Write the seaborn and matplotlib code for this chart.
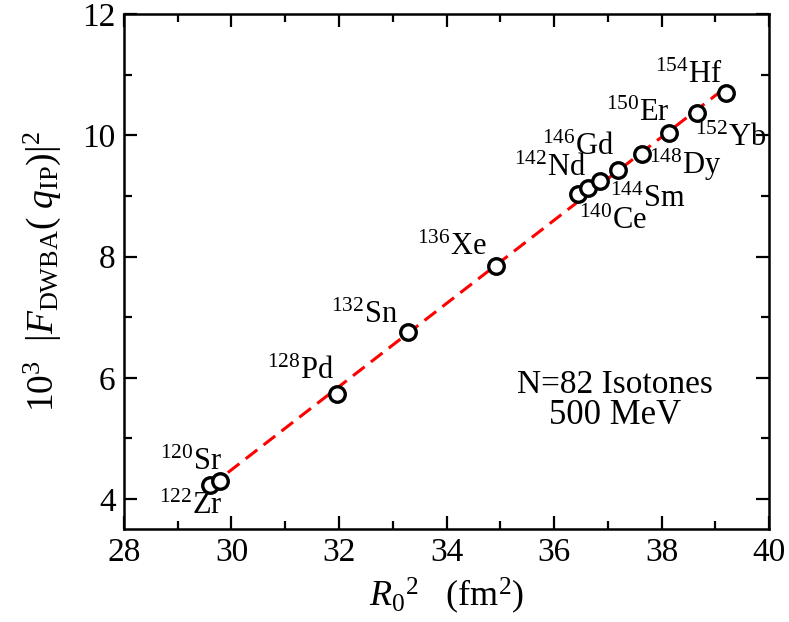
import matplotlib
matplotlib.use("Agg")
import pandas as pd
import seaborn as sns
import matplotlib.pyplot as plt
from matplotlib.ticker import MultipleLocator

# N=82 isotones, values
mass = [120, 122, 128, 132, 136, 140, 142, 144, 146, 148, 150, 152, 154]
element = ["Sr", "Zr", "Pd", "Sn", "Xe", "Ce", "Nd", "Sm", "Gd", "Dy", "Er", "Yb", "Hf"]
r0_sq = [29.60, 29.79, 31.97, 33.28, 34.91, 36.44, 36.63, 36.86, 37.18, 37.64, 38.14, 38.65, 39.19]
f_dwba = [4.23, 4.30, 5.74, 6.76, 7.85, 9.03, 9.13, 9.25, 9.42, 9.69, 10.03, 10.37, 10.69]

df = pd.DataFrame({"mass": mass, "element": element, "r0_sq": r0_sq, "f": f_dwba})

# label offsets (pixels) from each point
label_offsets = [(-19, 23), (-29, -26), (-37, 22), (-43, 16), (-44, 18), (35, -27), (-38, 20),
                 (47, -19), (-40, 23), (43, -11), (-32, 20), (34, -26), (-37, 18)]

sns.set_style("ticks", {"xtick.direction": "in", "ytick.direction": "in"})
plt.rcParams["font.family"] = ["Liberation Serif", "DejaVu Serif"]
plt.rcParams["mathtext.fontset"] = "custom"
plt.rcParams["mathtext.rm"] = "Liberation Serif"
plt.rcParams["mathtext.it"] = "Liberation Serif:italic"
plt.rcParams["mathtext.bf"] = "Liberation Serif:bold"
for key in ["text.color", "axes.labelcolor", "xtick.color", "ytick.color", "axes.edgecolor"]:
    plt.rcParams[key] = "black"

fig = plt.figure(figsize=(7.89, 6.22), dpi=100)
ax = fig.add_axes([0.157, 0.149, 0.818, 0.8285])

# linear fit line
sns.regplot(data=df, x="r0_sq", y="f", scatter=False, ci=None, ax=ax,
            line_kws=dict(color="red", lw=2.2, dashes=(4.8, 2.6), zorder=2))

sns.scatterplot(data=df, x="r0_sq", y="f", ax=ax, s=125, facecolor="white",
                edgecolor="black", linewidth=2.4, zorder=3)

for (i, row), (dx, dy) in zip(df.iterrows(), label_offsets):
    ax.annotate(r"$^{%d}$%s" % (row["mass"], row["element"]), (row["r0_sq"], row["f"]),
                xytext=(dx, dy), textcoords="offset pixels", ha="center", va="center",
                fontsize=22)

ax.text(0.761, 0.28, "N=82 Isotones", transform=ax.transAxes, ha="center", va="center", fontsize=24)
ax.text(0.761, 0.221, "500 MeV", transform=ax.transAxes, ha="center", va="center", fontsize=25)

ax.set_xlim(28, 40)
ax.set_ylim(3.5, 12)
ax.xaxis.set_major_locator(MultipleLocator(2))
ax.xaxis.set_minor_locator(MultipleLocator(1))
ax.yaxis.set_major_locator(MultipleLocator(2))
ax.yaxis.set_minor_locator(MultipleLocator(1))
ax.tick_params(which="both", direction="in", top=True, right=True, width=1.6, labelsize=24, pad=6)
ax.tick_params(which="major", length=9.5)
ax.tick_params(which="minor", length=5.5)
for sp in ax.spines.values():
    sp.set_linewidth(1.8)

ax.set_xlabel(r"$R_0$$^2$   (fm$^2$)", fontsize=26, labelpad=5)
ax.set_ylabel(r"10$^3$  |$F_{\mathrm{DWBA}}$( $q_{\mathrm{IP}}$)|$^2$", fontsize=27, labelpad=14)

fig.savefig("out.png", dpi=100)
